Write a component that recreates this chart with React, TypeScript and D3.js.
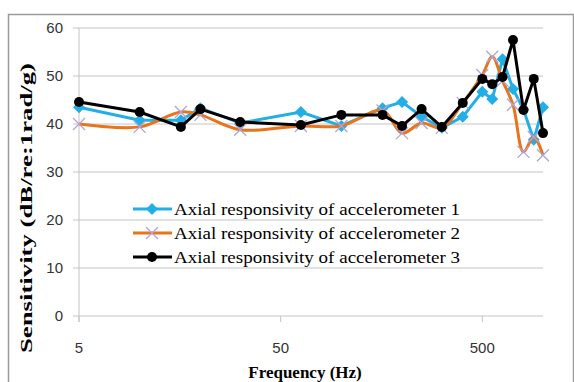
import React from "react";
import * as d3 from "d3";

// frequencies (Hz) shared by all three series
const freqs = [5, 10, 16, 20, 31.5, 63, 100, 160, 200, 250, 315, 400, 500, 560, 630, 710, 800, 900, 1000];
const acc1 = [43.5, 40.8, 40.8, 43.3, 40.2, 42.5, 39.6, 43.3, 44.6, 41.5, 39.2, 41.5, 46.7, 45.2, 53.5, 47.3, 43.0, 36.7, 43.5];
const acc2 = [40.0, 39.4, 42.5, 41.9, 38.8, 39.6, 39.6, 42.8, 38.1, 40.2, 39.2, 44.4, 50.2, 54.0, 49.0, 44.0, 34.2, 37.3, 33.5];
const acc3 = [44.6, 42.5, 39.4, 43.1, 40.4, 39.8, 41.9, 41.9, 39.6, 43.1, 39.4, 44.4, 49.4, 48.3, 49.8, 57.5, 42.9, 49.4, 38.1];

const yTicks = [0, 10, 20, 30, 40, 50, 60];
const xTicks = [5, 50, 500];
const legendLabels = [
  "Axial responsivity of accelerometer 1",
  "Axial responsivity of accelerometer 2",
  "Axial responsivity of accelerometer 3",
];

const W = 574;
const H = 382;
const BLUE = "#22aee6";
const ORANGE = "#e8741c";
const LAVENDER = "#b0a4d8";
const GRID = "#c4c4c4";
const SERIF = "Liberation Serif";
const SANS = "Liberation Sans";

const x = d3.scaleLog().domain([5, 1000]).range([79, 543]);
const y = d3.scaleLinear().domain([0, 60]).range([316, 28]);

type Pt = [number, number];
const pts = (vals: number[]): Pt[] => freqs.map((f, i) => [x(f), y(vals[i])]);

const straight = d3.line<Pt>().curve(d3.curveLinear);
const smooth = d3.line<Pt>().curve(d3.curveCatmullRom.alpha(0.5));

const Diamond = ({ cx, cy }: { cx: number; cy: number }) => (
  <path d={`M${cx},${cy - 6}L${cx + 6},${cy}L${cx},${cy + 6}L${cx - 6},${cy}Z`} fill={BLUE} />
);
const Cross = ({ cx, cy }: { cx: number; cy: number }) => (
  <path
    d={`M${cx - 6},${cy - 6}L${cx + 6},${cy + 6}M${cx - 6},${cy + 6}L${cx + 6},${cy - 6}`}
    stroke={LAVENDER}
    strokeWidth={1.3}
  />
);
const Dot = ({ cx, cy }: { cx: number; cy: number }) => <circle cx={cx} cy={cy} r={5} fill="#000" />;

export default function App() {
  const p1 = pts(acc1);
  const p2 = pts(acc2);
  const p3 = pts(acc3);

  return (
    <svg
      width={W}
      height={H}
      style={{ position: "absolute", left: 0, top: 0, background: "#fff", fontFamily: SERIF }}
    >
      <rect x={8.5} y={14.5} width={565} height={380} fill="#fff" stroke="#9a9a9a" strokeWidth={1.5} />

      {/* grid */}
      {yTicks.map((t) => (
        <line key={t} x1={73} x2={543} y1={y(t)} y2={y(t)} stroke={GRID} strokeWidth={1} />
      ))}
      <line x1={x(5)} x2={x(5)} y1={y(60)} y2={y(0) + 6} stroke={GRID} />
      {xTicks.map((t) => (
        <line key={t} x1={x(t)} x2={x(t)} y1={y(0)} y2={y(0) + 6} stroke={GRID} />
      ))}

      {/* tick labels */}
      {yTicks.map((t) => (
        <text key={t} x={63} y={y(t) + 5} textAnchor="end" style={{ fontFamily: SANS, fontSize: 15 }} fill="#333">
          {t}
        </text>
      ))}
      {xTicks.map((t) => (
        <text key={t} x={x(t)} y={353} textAnchor="middle" style={{ fontFamily: SANS, fontSize: 15 }} fill="#333">
          {t}
        </text>
      ))}

      {/* axis titles */}
      <text x={305} y={378} textAnchor="middle" style={{ fontFamily: SERIF, fontWeight: "bold", fontSize: 17 }}>
        Frequency (Hz)
      </text>
      <text
        transform="translate(32,208) rotate(-90)"
        textAnchor="middle"
        style={{ fontFamily: SERIF, fontWeight: "bold", fontSize: 17 }}
        textLength={290}
        lengthAdjust="spacingAndGlyphs"
      >
        Sensitivity (dB/re:1rad/g)
      </text>

      {/* series */}
      <path d={straight(p1) || ""} fill="none" stroke={BLUE} strokeWidth={3} />
      {p1.map(([cx, cy], i) => (
        <Diamond key={i} cx={cx} cy={cy} />
      ))}
      <path d={smooth(p2) || ""} fill="none" stroke={ORANGE} strokeWidth={3} />
      {p2.map(([cx, cy], i) => (
        <Cross key={i} cx={cx} cy={cy} />
      ))}
      <path d={straight(p3) || ""} fill="none" stroke="#000" strokeWidth={3} />
      {p3.map(([cx, cy], i) => (
        <Dot key={i} cx={cx} cy={cy} />
      ))}

      {/* legend */}
      {legendLabels.map((label, i) => {
        const ly = 209 + i * 24;
        const color = [BLUE, ORANGE, "#000"][i];
        return (
          <g key={label}>
            <line x1={133} x2={172} y1={ly} y2={ly} stroke={color} strokeWidth={3} />
            {i === 0 && <Diamond cx={152} cy={ly} />}
            {i === 1 && <Cross cx={152} cy={ly} />}
            {i === 2 && <Dot cx={152} cy={ly} />}
            <text
              x={174}
              y={ly + 6}
              style={{ fontFamily: SERIF, fontSize: 17 }}
              textLength={286}
              lengthAdjust="spacingAndGlyphs"
            >
              {label}
            </text>
          </g>
        );
      })}
    </svg>
  );
}
